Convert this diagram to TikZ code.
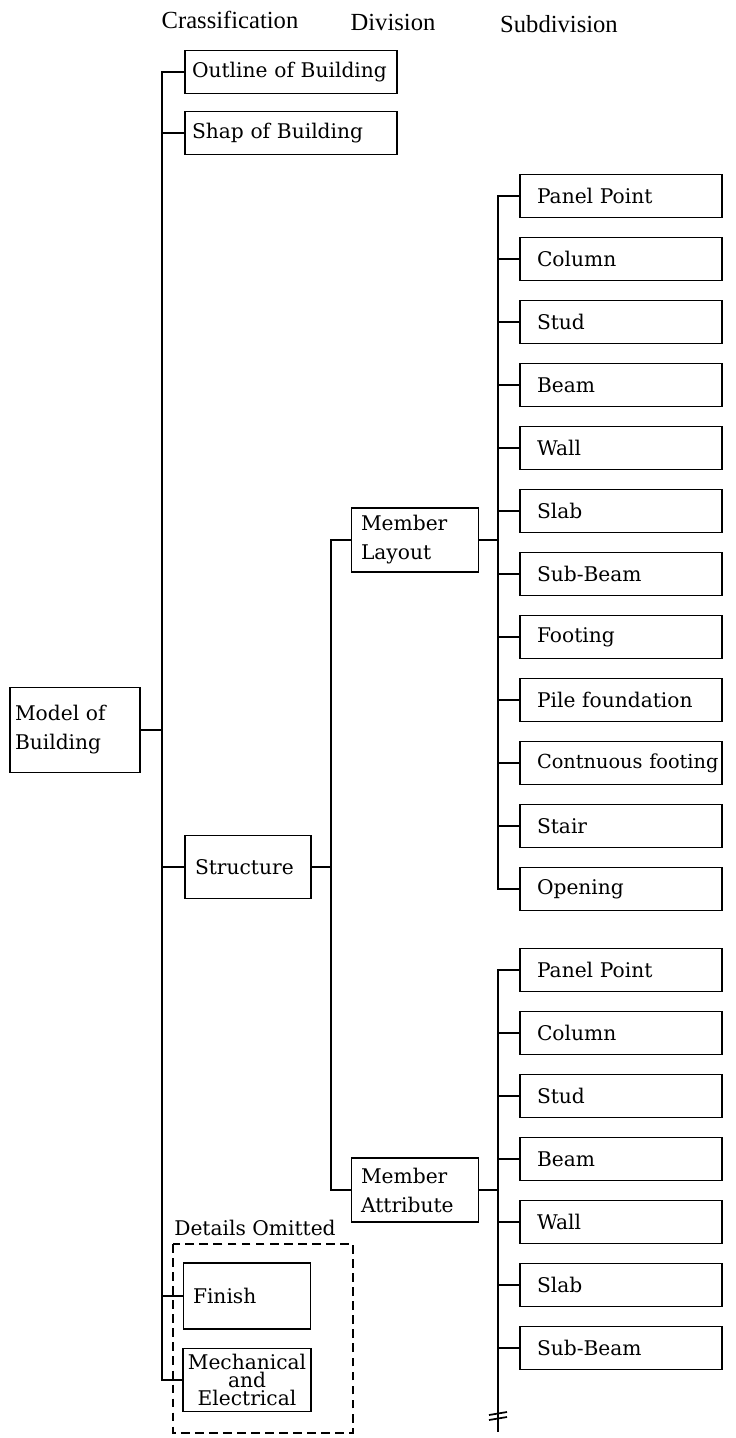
\documentclass[tikz,border=0pt]{standalone}
\usepackage{fontspec}
\setmainfont{DejaVu Serif}
\newfontfamily\headfont{Liberation Serif}
\usetikzlibrary{positioning}

\begin{document}
\begin{tikzpicture}[x=0.02cm, y=-0.02cm,
  box/.style={draw, line width=1pt, align=left, font=\fontsize{11.5}{16.5}\selectfont},
  sub/.style={box, text width=3.36cm, inner xsep=0.34cm, minimum height=0.86cm},
  cls/.style={box, text width=3.96cm, inner xsep=0.14cm, minimum height=0.86cm},
  mid/.style={box, text width=2.16cm, inner xsep=0.19cm, minimum height=1.28cm},
  head/.style={font=\headfont\fontsize{14}{16}\selectfont},
  link/.style={line width=1pt}]

\useasboundingbox (0,0) rectangle (735,1438);

% Headings
\node[head] (hcls) at (230,20) {Crassification};
\node[head] (hdiv) at (393,22) {Division};
\node[head] (hsub) at (559,24) {Subdivision};

% Crassification
\node[box, text width=2.4cm, inner xsep=0.1cm, minimum height=1.7cm] (model) at (75,730) {Model of\\Building};
\node[cls] (outline) at (291,72) {Outline of Building};
\node[cls] (shape) at (291,133) {Shap of Building};
\node[mid, text width=2.12cm, inner xsep=0.2cm, minimum height=1.26cm] (struct) at (248,867) {Structure};
\node[mid, minimum height=1.32cm] (finish) at (247,1296) {Finish};
\node[box, align=center, font=\fontsize{11.5}{10}\selectfont, minimum width=2.56cm, minimum height=1.26cm, inner xsep=0.05cm] (mech) at (247,1380) {Mechanical\\and\\Electrical};

% Details omitted frame
\node[font=\fontsize{11.5}{13}\selectfont] (omit) at (255,1228) {Details Omitted};
\draw[line width=0.9pt, dash pattern=on 5pt off 3pt] (173,1244) rectangle (353,1433);

% Division
\node[mid] (layout) at (415,540) {Member\\Layout};
\node[mid] (attr) at (415,1190) {Member\\Attribute};

% Subdivision (layout)
\node[sub] (pp1) at (621,196) {Panel Point};
\node[sub] (col1) at (621,259) {Column};
\node[sub] (stud1) at (621,322) {Stud};
\node[sub] (beam1) at (621,385) {Beam};
\node[sub] (wall1) at (621,448) {Wall};
\node[sub] (slab1) at (621,511) {Slab};
\node[sub] (sb1) at (621,574) {Sub-Beam};
\node[sub] (foot1) at (621,637) {Footing};
\node[sub] (pile1) at (621,700) {Pile foundation};
\node[sub] (cont1) at (621,763) {\fontsize{11}{16.5}\selectfont\mbox{Contnuous footing}};
\node[sub] (stair1) at (621,826) {Stair};
\node[sub] (op1) at (621,889) {Opening};

% Subdivision (attribute)
\node[sub] (pp2) at (621,970) {Panel Point};
\node[sub] (col2) at (621,1033) {Column};
\node[sub] (stud2) at (621,1096) {Stud};
\node[sub] (beam2) at (621,1159) {Beam};
\node[sub] (wall2) at (621,1222) {Wall};
\node[sub] (slab2) at (621,1285) {Slab};
\node[sub] (sb2) at (621,1348) {Sub-Beam};

% Trunks
\coordinate (t1) at (162,0);
\coordinate (t2) at (331,0);
\coordinate (t3) at (498,0);
\coordinate (cut) at (498,1432);

% Lines
\draw[link] (outline.west) -| (t1 |- mech.west) -- (mech.west);
\draw[link] (shape.west) -- (shape.west -| t1);
\draw[link] (model.east) -- (model.east -| t1);
\draw[link] (struct.west) -- (struct.west -| t1);
\draw[link] (finish.west) -- (finish.west -| t1);

\draw[link] (layout.west) -| (t2 |- attr.west) -- (attr.west);
\draw[link] (struct.east) -- (struct.east -| t2);

\draw[link] (pp1.west) -| (t3 |- op1.west) -- (op1.west);
\draw[link] (layout.east) -- (layout.east -| t3);
\draw[link] (col1.west) -- (col1.west -| t3);
\draw[link] (stud1.west) -- (stud1.west -| t3);
\draw[link] (beam1.west) -- (beam1.west -| t3);
\draw[link] (wall1.west) -- (wall1.west -| t3);
\draw[link] (slab1.west) -- (slab1.west -| t3);
\draw[link] (sb1.west) -- (sb1.west -| t3);
\draw[link] (foot1.west) -- (foot1.west -| t3);
\draw[link] (pile1.west) -- (pile1.west -| t3);
\draw[link] (cont1.west) -- (cont1.west -| t3);
\draw[link] (stair1.west) -- (stair1.west -| t3);

\draw[link] (pp2.west) -| (cut);
\draw[link] (attr.east) -- (attr.east -| t3);
\draw[link] (col2.west) -- (col2.west -| t3);
\draw[link] (stud2.west) -- (stud2.west -| t3);
\draw[link] (beam2.west) -- (beam2.west -| t3);
\draw[link] (wall2.west) -- (wall2.west -| t3);
\draw[link] (slab2.west) -- (slab2.west -| t3);
\draw[link] (sb2.west) -- (sb2.west -| t3);

% break mark
\draw[link] ([shift={(-9,-17)}]cut) -- ++(18,-3);
\draw[link] ([shift={(-9,-12)}]cut) -- ++(18,-3);

\end{tikzpicture}
\end{document}
